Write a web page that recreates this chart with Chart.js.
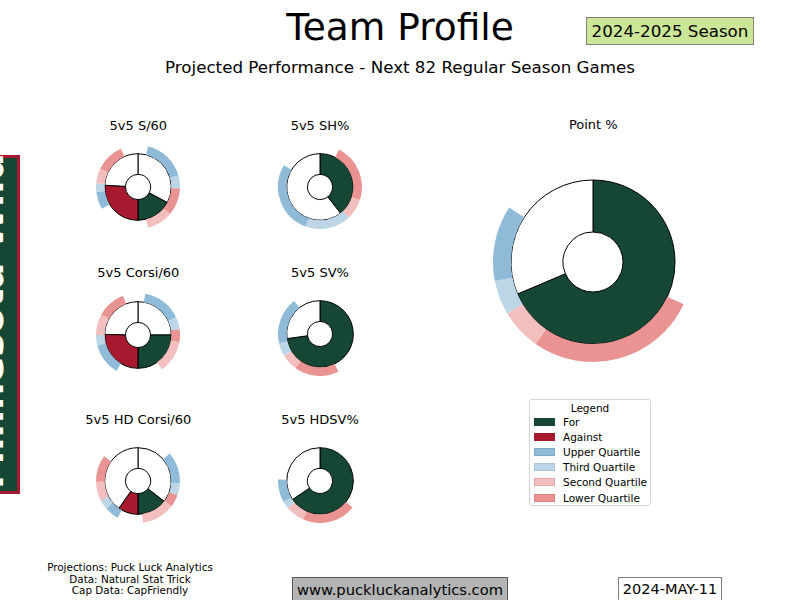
<!DOCTYPE html>
<html><head><meta charset="utf-8">
<script src="https://cdn.jsdelivr.net/npm/chart.js@4.4.1/dist/chart.umd.min.js"></script>
<style>
html,body{margin:0;padding:0;background:#fff;}
#page{position:relative;width:800px;height:600px;overflow:hidden;font-family:"DejaVu Sans",sans-serif;color:#000;}
.t{position:absolute;transform:translate(-50%,-50%);white-space:nowrap;line-height:1;}
canvas{position:absolute;}
.box{position:absolute;box-sizing:border-box;display:flex;align-items:center;justify-content:center;white-space:nowrap;}
</style></head>
<body><div id="page"></div>
<script>
// ---------------- DATA ----------------
const metricNames = ["5v5 S/60","5v5 SH%","5v5 Corsi/60","5v5 SV%","5v5 HD Corsi/60","5v5 HDSV%","Point %"];
// team values, in dial degrees (paired charts: For measured from bottom counter-clockwise, Against clockwise)
const forValues     = [62, 142, 90, 262, 52, 236, 247];
const againstValues = [93, null, 91, null, 35, null, null];
// league distribution bounds [min, Q1, median, Q3, max], dial degrees
const forBounds = [
  [14, 50, 88, 106, 166],
  [27, 108, 137, 200, 301],
  [35, 80, 98, 115, 170],
  [154, 216, 239, 257, 322],
  [7, 53, 70, 87, 131],
  [129, 204, 230, 240, 272],
  [115, 215, 239, 259, 303]
];
const againstBounds = [
  [59, 83, 95, 116, 156],
  null,
  [31, 76, 90, 119, 159],
  null,
  [29, 49, 62, 89, 126],
  null,
  null
];
const legendLabels = ["For","Against","Upper Quartile","Third Quartile","Second Quartile","Lower Quartile"];
const creditLines = ["Projections: Puck Luck Analytics","Data: Natural Stat Trick","Cap Data: CapFriendly"];

// ---------------- STYLE ----------------
const C = {
  forC:'#154734', agC:'#a6192e', white:'#ffffff',
  upper:'#8fbbd9', third:'#bcd6e8', second:'#f3bebe', lower:'#ea9393'
};
const legendColors = [C.forC, C.agC, C.upper, C.third, C.second, C.lower];
const legendEdges = ['#154734','#a6192e','#7fa9c8','#a9c6dc','#e3aaaa','#d98080'];
const layout = [
  {cx:138.3, cy:186.7, ty:125}, {cx:320, cy:186.7, ty:125},
  {cx:138.3, cy:335, ty:272},   {cx:320, cy:334, ty:272},
  {cx:138.3, cy:481, ty:419},   {cx:320, cy:481.3, ty:419},
  {cx:593.3, cy:261.7, ty:124, big:true}
];

const page = document.getElementById('page');
function txt(s, x, y, size, extra){
  const d = document.createElement('div');
  d.className='t'; d.textContent=s;
  d.style.left=x+'px'; d.style.top=y+'px'; d.style.fontSize=size+'px';
  if(extra) Object.assign(d.style, extra);
  page.appendChild(d); return d;
}
function box(s, x, y, w, h, size, st){
  const d=document.createElement('div'); d.className='box'; d.textContent=s;
  Object.assign(d.style,{left:x+'px',top:y+'px',width:w+'px',height:h+'px',fontSize:size+'px'}, st||{});
  page.appendChild(d); return d;
}

// titles
txt("Team Profile", 400, 28, 37.5);
txt("Projected Performance - Next 82 Regular Season Games", 400, 67, 16.7);
box("2024-2025 Season", 586, 17, 168, 28, 16.7, {background:'#cce698', border:'1px solid #808080'});

// left banner
const ban=document.createElement('div');
Object.assign(ban.style,{position:'absolute',left:'-10px',top:'155px',width:'29.5px',height:'339px',boxSizing:'border-box',background:C.forC,border:'3px solid '+C.agC});
page.appendChild(ban);
const bt=document.createElement('div');
bt.textContent="Minnesota Wild";
Object.assign(bt.style,{position:'absolute',left:(-10-170)+'px',top:(321-19)+'px',width:'340px',height:'38px',lineHeight:'38px',fontSize:'38.5px',fontWeight:'bold',color:'#fff',textAlign:'center',whiteSpace:'nowrap',transform:'rotate(-90deg)',transformOrigin:'50% 50%'});
page.appendChild(bt);

function segsToData(segs){
  segs.sort((a,b)=>a[0]-b[0]);
  const data=[], colors=[]; let cur=0;
  for(const [s,e,c] of segs){
    if(s>cur+1e-6){data.push(s-cur); colors.push('rgba(0,0,0,0)');}
    data.push(e-s); colors.push(c); cur=e;
  }
  if(cur<360){data.push(360-cur); colors.push('rgba(0,0,0,0)');}
  return {data, colors};
}

metricNames.forEach((name,i)=>{
  const L = layout[i];
  const F = forValues[i], A = againstValues[i];
  const fb = forBounds[i], ab = againstBounds[i];
  let donutData, donutColors; const segs=[];
  if(A!==null){
    donutData=[180-F, F, A, 180-A];
    donutColors=[C.white, C.forC, C.agC, C.white];
    const fCols=[C.second, C.lower, C.third, C.upper];
    for(let k=0;k<4;k++) segs.push([180-fb[k+1], 180-fb[k], fCols[k]]);
    const aCols=[C.upper, C.third, C.second, C.lower];
    for(let k=0;k<4;k++) segs.push([180+ab[k], 180+ab[k+1], aCols[k]]);
  } else {
    donutData=[F, 360-F];
    donutColors=[C.forC, C.white];
    const cols=[C.lower, C.second, C.third, C.upper];
    for(let k=0;k<4;k++) segs.push([fb[k], fb[k+1], cols[k]]);
  }
  const ring = segsToData(segs);
  const size = L.big ? 220 : 100;
  const R = L.big ? 100 : 42;
  const wRing = L.big ? 18 : 8.7, wDonut = L.big ? 52 : 20.7;
  const cv=document.createElement('canvas');
  cv.width=size; cv.height=size;
  cv.style.left=(L.cx-size/2)+'px'; cv.style.top=(L.cy-size/2)+'px';
  page.appendChild(cv);
  new Chart(cv,{
    type:'doughnut',
    data:{labels: ring.data.map((_,k)=>String(k)), datasets:[
      {data:ring.data, backgroundColor:ring.colors, borderWidth:0, weight:wRing},
      {data:donutData, backgroundColor:donutColors, borderColor:'#000', borderWidth:1, weight:wDonut}
    ]},
    options:{responsive:false, animation:false, events:[], radius:R, cutout:'30%', rotation:0, circumference:360,
      layout:{padding:0}, plugins:{legend:{display:false}, tooltip:{enabled:false}}}
  });
  txt(name, L.cx, L.ty, 13);
});

// legend
const lg=document.createElement('div');
Object.assign(lg.style,{position:'absolute',left:'529px',top:'399px',width:'122px',height:'107px',boxSizing:'border-box',border:'1px solid #d5d5d5',borderRadius:'3px',background:'#fff'});
page.appendChild(lg);
txt("Legend", 590, 408, 10.5);
legendLabels.forEach((lab,k)=>{
  const y = 422 + k*15.1;
  const p=document.createElement('div');
  Object.assign(p.style,{position:'absolute',left:'534px',top:(y-4)+'px',width:'21px',height:'8px',boxSizing:'border-box',background:legendColors[k],border:'1px solid '+legendEdges[k]});
  page.appendChild(p);
  txt(lab, 563, y, 10.5, {transform:'translate(0,-50%)'});
});

// footer
creditLines.forEach((s,k)=>txt(s, 130, 567+k*11.6, 10.4));
box("www.puckluckanalytics.com", 292, 577, 216, 30, 14.7, {background:'#b4b4b4', border:'1px solid #555', alignItems:'flex-start', paddingTop:'3px'});
box("2024-MAY-11", 618, 577, 104, 30, 14.5, {background:'#fff', border:'1px solid #808080', alignItems:'flex-start', paddingTop:'3px'});
</script>
</body></html>
